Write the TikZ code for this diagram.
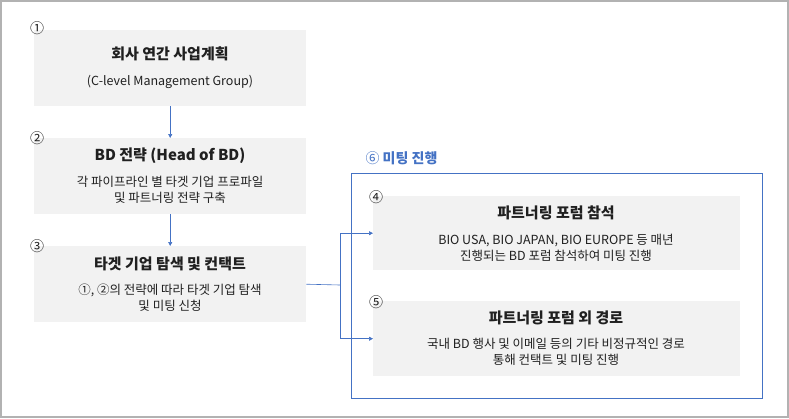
\documentclass[tikz,border=0pt]{standalone}
\usepackage{fontspec}
\setmainfont{Noto Sans CJK KR}
\usetikzlibrary{arrows.meta}
\definecolor{boxg}{HTML}{F2F2F2}
\definecolor{blu}{HTML}{4472C4}
\definecolor{txt}{HTML}{202020}
\begin{document}
\begin{tikzpicture}[x=1pt,y=-1pt,
  gbox/.style={fill=boxg,draw=none,minimum width=#1,inner sep=0pt},
  ttl/.style={font=\bfseries\fontsize{15}{18}\selectfont,text=txt},
  body/.style={font=\fontsize{12.5}{16}\selectfont,text=txt,align=center},
  num/.style={font=\fontsize{14}{16}\selectfont,text=txt},
  conn/.style={draw=blu,line width=0.6pt,-{Triangle[length=4pt,width=4pt]}}]
\useasboundingbox (0,0) rectangle (789,418);
\draw[gray!60,line width=1.5pt] (1,1) rectangle (788,417);
% boxes
\node[gbox, minimum width=272pt, minimum height=76pt, anchor=north west] (b1) at (34,30) {};
\node[gbox, minimum width=272pt, minimum height=76pt, anchor=north west] (b2) at (34,138) {};
\node[gbox, minimum width=272pt, minimum height=76pt, anchor=north west] (b3) at (34,246) {};
\node[gbox, minimum width=367pt, minimum height=74pt, anchor=north west] (b4) at (373,196) {};
\node[gbox, minimum width=367pt, minimum height=75pt, anchor=north west] (b5) at (373,301) {};
\draw[blu,line width=0.8pt] (351,173) rectangle (762,398);
\node[anchor=west,text=blu,font=\fontsize{14}{16}\selectfont] (l6) at (362,158) {⑥ \textbf{미팅 진행}};
% numbers
\node[num] (n1) at (37,28) {①};
\node[num] (n2) at (37,138) {②};
\node[num] (n3) at (37,246) {③};
\node[num] (n4) at (376,197) {④};
\node[num] (n5) at (376,302) {⑤};
% texts
\node[ttl] (t1) at (170,54) {회사 연간 사업계획};
\node[body] (s1) at (170,82) {(C-level Management Group)};
\node[ttl] (t2) at (170,156) {BD 전략 (Head of BD)};
\node[body] (s2) at (170,190) {각 파이프라인 별 타겟 기업 프로파일\\및 파트너링 전략 구축};
\node[ttl] (t3) at (170,264) {타겟 기업 탐색 및 컨택트};
\node[body] (s3) at (170,298) {①, ②의 전략에 따라 타겟 기업 탐색\\및 미팅 신청};
\node[ttl] (t4) at (556,213) {파트너링 포럼 참석};
\node[body] (s4) at (556,248) {BIO USA, BIO JAPAN, BIO EUROPE 등 매년\\진행되는 BD 포럼 참석하여 미팅 진행};
\node[ttl] (t5) at (556,318) {파트너링 포럼 외 경로};
\node[body] (s5) at (556,352) {국내 BD 행사 및 이메일 등의 기타 비정규적인 경로\\통해 컨택트 및 미팅 진행};
% connectors
\draw[conn] (b1.south) -- (b2.north);
\draw[conn] (b2.south) -- (b3.north);
\coordinate (j) at (340,285);
\draw[draw=blu,line width=0.6pt] (b3.east) -- (j);
\draw[conn] (j) |- (b4.west);
\draw[conn] (j) |- (b5.west);
\end{tikzpicture}
\end{document}
